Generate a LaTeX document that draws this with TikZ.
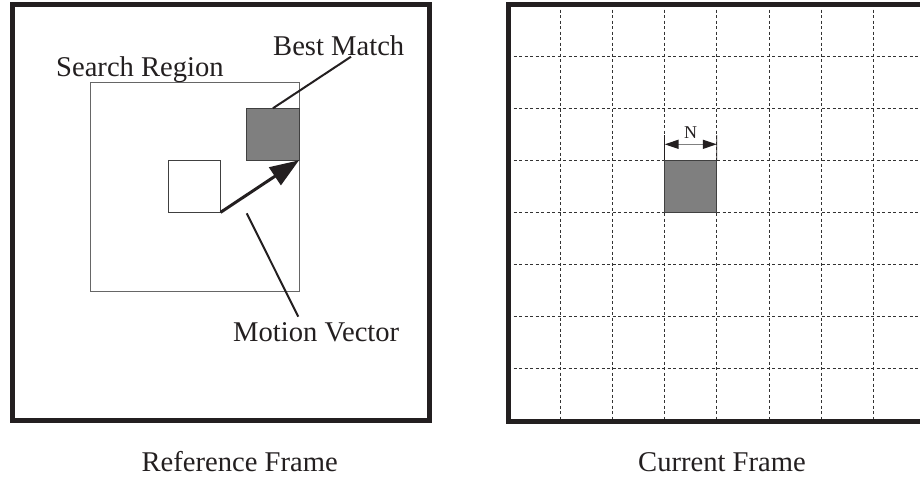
\documentclass[tikz,border=0pt]{standalone}
\usepackage{fontspec}
\setmainfont{Liberation Serif}
\usetikzlibrary{arrows.meta}
\definecolor{ink}{HTML}{231F20}
\definecolor{shade}{HTML}{7F7F7F}
\begin{document}
\begin{tikzpicture}[x=1pt,y=-1pt,
  framebox/.style={draw=ink, line width=5pt, inner sep=0pt, outer sep=0pt},
  regionbox/.style={draw=black!60, line width=1pt, inner sep=0pt, outer sep=0pt},
  blockbox/.style={draw=black!75, line width=1pt, inner sep=0pt, outer sep=0pt,
                   minimum width=52.2pt, minimum height=52pt},
  gridline/.style={draw=black!80, line width=0.9pt, dash pattern=on 3pt off 2.5pt},
  leader/.style={draw=ink, line width=2pt},
  label/.style={text=ink, inner sep=0pt, font=\fontsize{28.6}{34}\selectfont},
]
\useasboundingbox (0,0) rectangle (920,480);

% ---------- reference frame ----------
\node[framebox, minimum width=417.2pt, minimum height=416pt] (refframe) at (220.9,212.5) {};
\node[regionbox, minimum width=209pt, minimum height=209pt] (search) at (194.5,186.5) {};
\node[blockbox, fill=white] (cur) at (194.5,186.3) {};
\node[blockbox, fill=shade] (best) at (272.9,134.3) {};

% motion vector
\draw[ink, line width=3pt, -{Triangle[length=29pt,width=21pt]}] (cur.south east) -- (best.south east);

% labels and leader lines
\node[label, anchor=base west] (bestlbl) at (273,55) {Best Match};
\coordinate (bestend) at (351,56.7);
\draw[leader] (best.north) -- (bestend);

\node[label, anchor=base west] (searchlbl) at (56,76) {Search Region};

\node[label, anchor=base west] (mvlbl) at (233,341.7) {Motion Vector};
\coordinate (mvstart) at (246.7,213.3);
\coordinate (mvend) at (298.3,316.7);
\draw[leader] (mvstart) -- (mvend);

\node[label, anchor=base] (refcap) at (239.7,471.7) {Reference Frame};

% ---------- current frame ----------
\foreach \k in {1,...,7} {
  \draw[gridline] (508+52.2*\k,4) -- (508+52.2*\k,421);
  \draw[gridline] (508,4+52.1*\k) -- (930,4+52.1*\k);
}
\node[blockbox, fill=shade] (blk) at (690.7,186.35) {};
\node[framebox, minimum width=417.6pt, minimum height=417pt] (curframe) at (716.8,212.5) {};

% block size marker
\coordinate (tickl) at (664.6,135);
\coordinate (tickr) at (716.8,135);
\draw[ink, line width=0.8pt] (tickl) -- (blk.north west);
\draw[ink, line width=0.8pt] (tickr) -- (blk.north east);
\draw[black!50, line width=1.4pt, {Triangle[length=14pt,width=9pt,color=ink]}-{Triangle[length=14pt,width=9pt,color=ink]}]
  (664.6,144.3) -- (716.8,144.3);
\node[text=ink, inner sep=0pt, anchor=base, font=\fontsize{18}{22}\selectfont] (nlbl) at (690.5,138.3) {N};

\node[label, anchor=base] (curcap) at (722,471.7) {Current Frame};
\end{tikzpicture}
\end{document}
